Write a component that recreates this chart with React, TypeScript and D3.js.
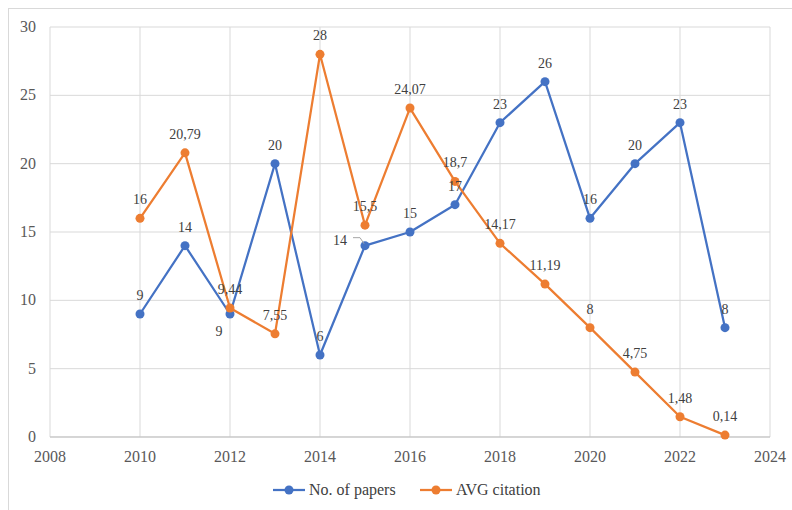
import React from 'react';
import * as d3 from 'd3';

const years = [2010, 2011, 2012, 2013, 2014, 2015, 2016, 2017, 2018, 2019, 2020, 2021, 2022, 2023];
const papers = [9, 14, 9, 20, 6, 14, 15, 17, 23, 26, 16, 20, 23, 8];
const citations = [16, 20.79, 9.44, 7.55, 28, 15.5, 24.07, 18.7, 14.17, 11.19, 8, 4.75, 1.48, 0.14];
const xTicks = [2008, 2010, 2012, 2014, 2016, 2018, 2020, 2022, 2024];
const yTicks = [0, 5, 10, 15, 20, 25, 30];

const W = 792;
const H = 510;
const BLUE = '#4472C4';
const ORANGE = '#ED7D31';
const FONT = 'Liberation Serif';

const fmt = (v: number) => String(v).replace('.', ',');

const App: React.FC = () => {
  const x = d3.scaleLinear().domain([2008, 2024]).range([50, 770]);
  const y = d3.scaleLinear().domain([0, 30]).range([437, 27]);

  const line = d3.line<number>()
    .x((_, i) => x(years[i]))
    .y(d => y(d));

  const series = [
    { name: 'No. of papers', values: papers, color: BLUE },
    { name: 'AVG citation', values: citations, color: ORANGE },
  ];

  // label offsets where the chart moved them off the default "above" spot
  const paperLabel = (i: number) => {
    if (years[i] === 2012) return { dx: -11, dy: 22 };
    if (years[i] === 2015) return { dx: -25, dy: -1 };
    return { dx: 0, dy: -14 };
  };

  return (
    <svg width={W} height={H} style={{ position: 'absolute', left: 0, top: 0, background: '#fff' }}>
      <style>{`text { font-family: 'Liberation Serif', serif; }`}</style>
      <rect x={8.5} y={8.5} width={W} height={H} fill="none" stroke="#d9d9d9" strokeWidth={1} />

      {/* grid */}
      {yTicks.map(t => (
        <line key={'gy' + t} x1={x(2008)} x2={x(2024)} y1={y(t)} y2={y(t)} stroke="#d9d9d9" strokeWidth={1} />
      ))}
      {xTicks.map(t => (
        <line key={'gx' + t} x1={x(t)} x2={x(t)} y1={y(0)} y2={y(30)} stroke="#d9d9d9" strokeWidth={1} />
      ))}
      <line x1={x(2008)} x2={x(2024)} y1={y(0)} y2={y(0)} stroke="#bfbfbf" strokeWidth={1} />

      <g fontFamily={FONT}>
        {/* tick labels */}
        {yTicks.map(t => (
          <text key={'ty' + t} x={36} y={y(t) + 5} textAnchor="end" fontSize={16} fill="#595959">{t}</text>
        ))}
        {xTicks.map(t => (
          <text key={'tx' + t} x={x(t)} y={y(0) + 25} textAnchor="middle" fontSize={16} fill="#595959">{t}</text>
        ))}
      </g>

      {/* series */}
      {series.map(s => (
        <g key={s.name}>
          <path d={line(s.values) || ''} fill="none" stroke={s.color} strokeWidth={2.25} strokeLinejoin="round" />
          {s.values.map((v, i) => (
            <circle key={i} cx={x(years[i])} cy={y(v)} r={4.5} fill={s.color} />
          ))}
        </g>
      ))}

      {/* leader line for 2015 paper label */}
      <path
        d={`M${x(2015) - 12},${y(14) - 8} L${x(2015) - 5},${y(14) - 8} L${x(2015) - 1},${y(14) - 2}`}
        fill="none" stroke="#a6a6a6" strokeWidth={1}
      />

      <g fontFamily={FONT}>
        {/* data labels */}
        {papers.map((v, i) => {
          const o = paperLabel(i);
          return (
            <text key={'lp' + i} x={x(years[i]) + o.dx} y={y(v) + o.dy} textAnchor="middle"
              fontSize={14} fill="#404040">{fmt(v)}</text>
          );
        })}
        {citations.map((v, i) => (
          <text key={'lc' + i} x={x(years[i])} y={y(v) - 14} textAnchor="middle"
            fontSize={14} fill="#404040">{fmt(v)}</text>
        ))}

        {/* legend */}
        <g transform="translate(273,490)">
          <line x1={0} x2={32} y1={0} y2={0} stroke={BLUE} strokeWidth={2.25} />
          <circle cx={16} cy={0} r={4.5} fill={BLUE} />
          <text x={36} y={5} fontSize={16} fill="#404040">No. of papers</text>
        </g>
        <g transform="translate(420,490)">
          <line x1={0} x2={32} y1={0} y2={0} stroke={ORANGE} strokeWidth={2.25} />
          <circle cx={16} cy={0} r={4.5} fill={ORANGE} />
          <text x={36} y={5} fontSize={16} fill="#404040">AVG citation</text>
        </g>
      </g>
    </svg>
  );
};

export default App;
